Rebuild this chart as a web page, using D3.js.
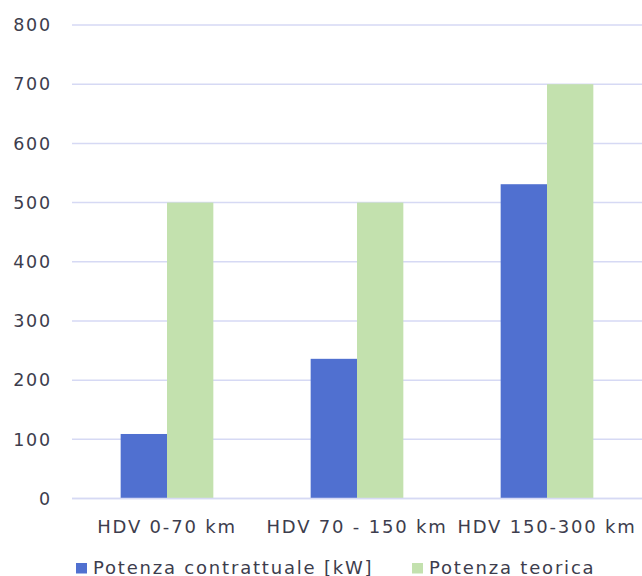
<!DOCTYPE html>
<html lang="it">
<head>
<meta charset="UTF-8">
<script src="https://d3js.org/d3.v7.min.js"></script>
<style>
  body { margin: 0; background: #fff; }
  text { font-family: "DejaVu Sans", sans-serif; fill: #3d3d4d; letter-spacing: 1.8px; }
</style>
</head>
<body>
<div id="chart"></div>
<script>
// data
const categories = ["HDV 0-70 km", "HDV 70 - 150 km", "HDV 150-300 km"];
const seriesNames = ["Potenza contrattuale [kW]", "Potenza teorica"];
const contrattuale = [109, 236, 531];
const teorica = [500, 500, 700];
const yTicks = [0, 100, 200, 300, 400, 500, 600, 700, 800];

const colors = ["#5070d0", "#c3e1ae"];

const W = 642, H = 576;
const margin = { top: 25, right: 0, bottom: 77.5, left: 72 };
const width = W - margin.left - margin.right;
const height = H - margin.top - margin.bottom;

const svg = d3.select("#chart").append("svg")
  .attr("width", W).attr("height", H);
const g = svg.append("g")
  .attr("transform", `translate(${margin.left},${margin.top})`);

const x = d3.scaleBand().domain(categories).range([0, width]).paddingInner(0).paddingOuter(0);
const xs = d3.scaleBand().domain(seriesNames).range([0, x.bandwidth()]).paddingInner(0).paddingOuter(1.05);
const y = d3.scaleLinear().domain([0, 800]).range([height, 0]);

// gridlines
g.selectAll(".grid").data(yTicks).join("line")
  .attr("x1", 0).attr("x2", width)
  .attr("y1", d => y(d)).attr("y2", d => y(d))
  .attr("stroke", "#d6d9f4").attr("stroke-width", 1.5);

// y labels
g.selectAll(".ylab").data(yTicks).join("text")
  .attr("x", -20).attr("y", d => y(d))
  .attr("dy", "0.36em").attr("text-anchor", "end")
  .style("font-size", "17.5px")
  .text(d => d);

// bars
const rows = categories.map((c, i) => ({ cat: c, vals: [contrattuale[i], teorica[i]] }));
const groups = g.selectAll(".grp").data(rows).join("g")
  .attr("transform", d => `translate(${x(d.cat)},0)`);
groups.selectAll("rect").data(d => d.vals.map((v, j) => ({ s: seriesNames[j], v, j })))
  .join("rect")
  .attr("x", d => xs(d.s)).attr("width", xs.bandwidth())
  .attr("y", d => y(d.v)).attr("height", d => y(0) - y(d.v))
  .attr("fill", d => colors[d.j]);

// x axis line
g.append("line").attr("x1", 0).attr("x2", width)
  .attr("y1", y(0)).attr("y2", y(0))
  .attr("stroke", "#d6d9f4").attr("stroke-width", 1.5);

// x labels
g.selectAll(".xlab").data(categories).join("text")
  .attr("x", d => x(d) + x.bandwidth() / 2)
  .attr("y", height + 34.5)
  .attr("text-anchor", "middle")
  .style("font-size", "18px")
  .text(d => d);

// legend
const legendX = [76, 412];
const leg = svg.selectAll(".leg").data(seriesNames).join("g")
  .attr("transform", (d, i) => `translate(${legendX[i]},574)`);
leg.append("rect").attr("x", 0).attr("y", -11).attr("width", 11).attr("height", 10.5)
  .attr("fill", (d, i) => colors[i]);
leg.append("text").attr("x", 17).attr("y", 0)
  .style("font-size", "18px")
  .text(d => d);
</script>
</body>
</html>
